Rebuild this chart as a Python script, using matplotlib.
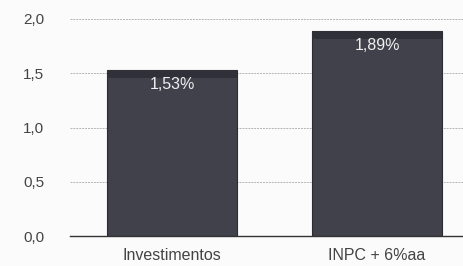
import matplotlib.pyplot as plt
from matplotlib.ticker import FuncFormatter

plt.rcParams['font.family'] = ['Liberation Sans', 'DejaVu Sans']

categories = ['Investimentos', 'INPC + 6%aa']
values = [1.53, 1.89]
value_labels = ['1,53%', '1,89%']
yticks = [0.0, 0.5, 1.0, 1.5, 2.0]

fig = plt.figure(figsize=(4.63, 2.66), dpi=100)
fig.patch.set_facecolor('#fbfbfb')
ax = fig.add_axes([69.5 / 463, 30 / 266, 410 / 463, 217 / 266])
ax.set_facecolor('#fbfbfb')

x = list(range(len(categories)))
bars = ax.bar(x, values, width=0.635, color='#40414b', edgecolor='#2c2c33',
              linewidth=0.8, zorder=3)
# slightly darker band along the top of each bar (as in the scan)
band = 0.07
ax.bar(x, [band] * len(values), bottom=[v - band for v in values], width=0.635,
       color='#303038', linewidth=0, zorder=3)

for bar, lab in zip(bars, value_labels):
    ax.text(bar.get_x() + bar.get_width() / 2, bar.get_height() - 0.065, lab,
            ha='center', va='top', color='#f0f0f0', fontsize=11.5, zorder=4)

ax.set_xlim(-0.5, 1.5)
ax.set_ylim(0, 2.0)
ax.set_yticks(yticks)
ax.yaxis.set_major_formatter(FuncFormatter(lambda v, p: f'{v:.1f}'.replace('.', ',')))
ax.set_xticks(x)
ax.set_xticklabels(categories)
ax.tick_params(axis='both', length=0, labelsize=11, colors='#444444')
ax.tick_params(axis='x', pad=9, labelsize=11.5)
ax.tick_params(axis='y', pad=18)

ax.yaxis.grid(True, color='#b4b4b4', linestyle=(0, (2, 1)), linewidth=0.7, zorder=0)
for s in ['top', 'right', 'left']:
    ax.spines[s].set_visible(False)
ax.spines['bottom'].set_color('#333333')
ax.spines['bottom'].set_linewidth(1.0)
ax.spines['bottom'].set_zorder(5)

plt.savefig('out.png', dpi=100, facecolor=fig.get_facecolor())
